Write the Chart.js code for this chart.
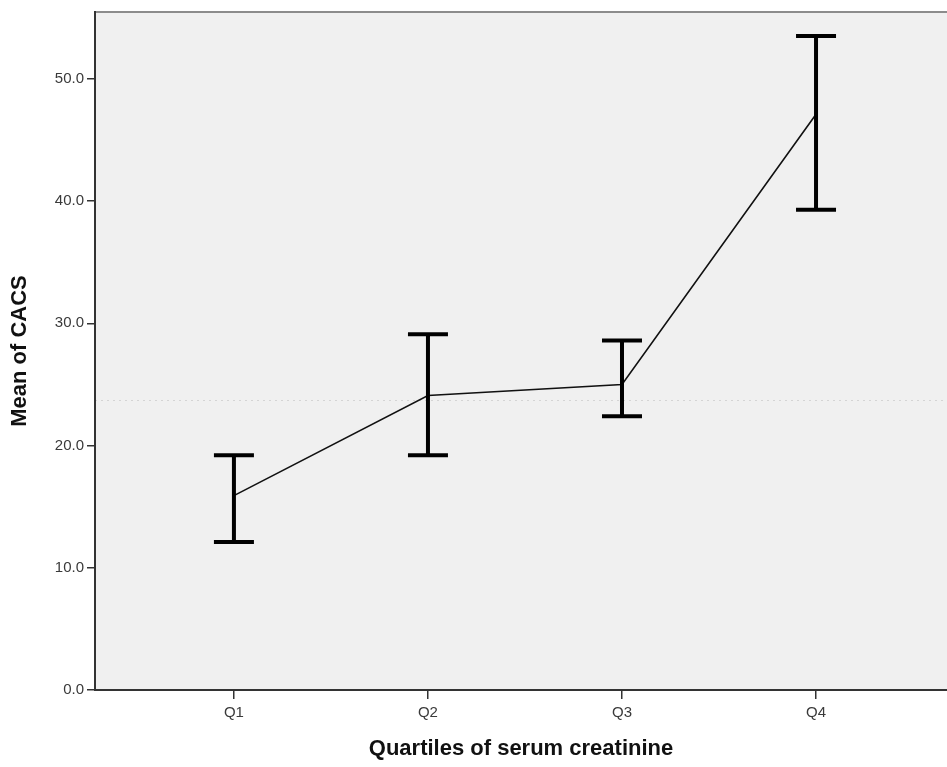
<!DOCTYPE html>
<html>
<head>
<meta charset="utf-8">
<script src="https://cdn.jsdelivr.net/npm/chart.js@4.4.1/dist/chart.umd.min.js"></script>
<style>
  html, body { margin: 0; padding: 0; background: #ffffff; }
  #wrap { width: 947px; height: 767px; position: relative; }
</style>
</head>
<body>
<div id="wrap"><canvas id="c" width="947" height="767"></canvas></div>
<script>
// Quartile groups and mean CACS with error-bar limits
const categories = ['Q1', 'Q2', 'Q3', 'Q4'];
const meanCACS = [15.9, 24.1, 25.0, 47.1];
const lowerCI = [12.1, 19.2, 22.4, 39.3];
const upperCI = [19.2, 29.1, 28.6, 53.5];
const yTicks = [0, 10, 20, 30, 40, 50];
const referenceLine = [23.7];

const points = categories.map((c, i) => ({ x: i, y: meanCACS[i] }));

// Plot background and top frame line
const backdrop = {
  id: 'backdrop',
  beforeDraw(chart) {
    const { ctx, chartArea: a } = chart;
    ctx.save();
    ctx.fillStyle = '#f0f0f0';
    ctx.fillRect(a.left, a.top, a.right - a.left, a.bottom - a.top);
    ctx.strokeStyle = '#8c8c8c';
    ctx.lineWidth = 2;
    ctx.beginPath();
    ctx.moveTo(a.left, a.top);
    ctx.lineTo(a.right, a.top);
    ctx.stroke();
    // faint dotted reference line
    const y = chart.scales.y.getPixelForValue(referenceLine[0]);
    ctx.strokeStyle = 'rgba(200,200,200,0.7)';
    ctx.lineWidth = 1;
    ctx.setLineDash([2, 4]);
    ctx.beginPath();
    ctx.moveTo(a.left, Math.round(y) + 0.5);
    ctx.lineTo(a.right, Math.round(y) + 0.5);
    ctx.stroke();
    ctx.restore();
  }
};

// Error bars with caps
const errorBars = {
  id: 'errorBars',
  afterDatasetsDraw(chart) {
    const { ctx, scales: { x, y } } = chart;
    ctx.save();
    ctx.strokeStyle = '#000000';
    ctx.lineWidth = 4;
    ctx.lineCap = 'butt';
    categories.forEach((c, i) => {
      const px = x.getPixelForValue(i);
      const top = y.getPixelForValue(upperCI[i]);
      const bot = y.getPixelForValue(lowerCI[i]);
      ctx.beginPath();
      ctx.moveTo(px, top);
      ctx.lineTo(px, bot);
      ctx.moveTo(px - 20, top);
      ctx.lineTo(px + 20, top);
      ctx.moveTo(px - 20, bot);
      ctx.lineTo(px + 20, bot);
      ctx.stroke();
    });
    ctx.restore();
  }
};

new Chart(document.getElementById('c'), {
  type: 'line',
  data: {
    datasets: [{
      data: points,
      borderColor: '#111111',
      borderWidth: 1.6,
      pointRadius: 0,
      tension: 0,
      fill: false
    }]
  },
  options: {
    responsive: false,
    animation: false,
    events: [],
    layout: { padding: { top: 11, right: 0, left: 0, bottom: 0 } },
    plugins: { legend: { display: false }, tooltip: { enabled: false } },
    scales: {
      x: {
        type: 'linear',
        min: -0.716,
        max: 3.675,
        afterFit(scale) { scale.height = 77; },
        afterBuildTicks(scale) { scale.ticks = categories.map((c, i) => ({ value: i })); },
        ticks: {
          callback: (v) => categories[v],
          font: { family: 'Liberation Sans, Arial', size: 15 },
          color: '#3a3a3a',
          padding: 5,
          maxRotation: 0
        },
        grid: { drawOnChartArea: false, drawTicks: true, tickLength: 9, color: '#333333', lineWidth: 1.5 },
        border: { display: true, color: '#333333', width: 2 },
        title: {
          display: true,
          text: 'Quartiles of serum creatinine',
          font: { family: 'Liberation Sans, Arial', size: 22, weight: 'bold' },
          color: '#111111',
          padding: { top: 0, bottom: 5 }
        }
      },
      y: {
        min: 0,
        max: 55.47,
        afterFit(scale) { scale.width = 95; },
        afterBuildTicks(scale) { scale.ticks = yTicks.map(v => ({ value: v })); },
        ticks: {
          callback: (v) => v.toFixed(1),
          font: { family: 'Liberation Sans, Arial', size: 15 },
          color: '#3a3a3a',
          padding: 3
        },
        grid: { drawOnChartArea: false, drawTicks: true, tickLength: 8, color: '#333333', lineWidth: 1.5 },
        border: { display: true, color: '#333333', width: 2 },
        title: {
          display: true,
          text: 'Mean of CACS',
          font: { family: 'Liberation Sans, Arial', size: 22, weight: 'bold' },
          color: '#111111',
          padding: { top: 7, bottom: 0 }
        }
      }
    }
  },
  plugins: [backdrop, errorBars]
});
</script>
</body>
</html>
